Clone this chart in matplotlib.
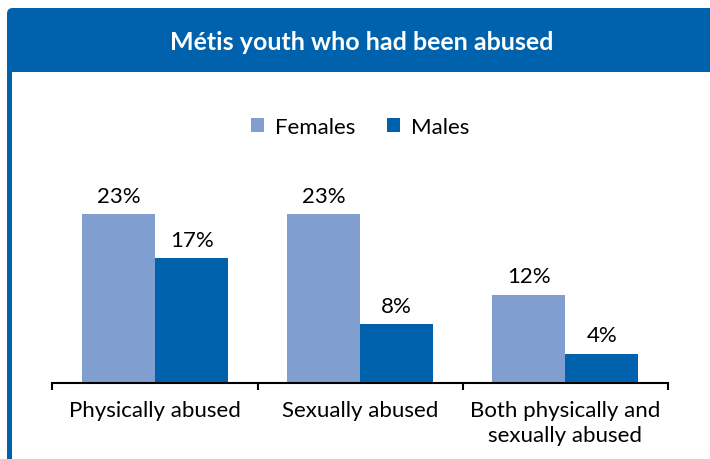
import numpy as np
import matplotlib.pyplot as plt
from matplotlib.patches import FancyBboxPatch, Rectangle

plt.rcParams["font.family"] = ["Lato", "DejaVu Sans"]

# Data
categories = ["Physically abused", "Sexually abused", "Both physically and\nsexually abused"]
females = [23, 23, 12]
males = [17, 8, 4]
series_names = ["Females", "Males"]

blue = "#0062ac"
light = "#809fd0"

W, H = 710, 460
fig = plt.figure(figsize=(W / 100, H / 100), dpi=100)

# frame: left border + header bar with rounded top-left corner
fig.patches.append(Rectangle((7 / W, 0), 5 / W, 1 - 20 / H, transform=fig.transFigure,
                             facecolor=blue, edgecolor="none"))
fig.patches.append(FancyBboxPatch((7 / W, (H - 73) / H), 720 / W, 64 / H,
                                  boxstyle="round,pad=0,rounding_size=0.008",
                                  transform=fig.transFigure, facecolor=blue,
                                  edgecolor="none", mutation_aspect=W / H))
fig.text(362 / W, (H - 43) / H, "Métis youth who had been abused", color="white",
         fontsize=18, fontweight="bold", ha="center", va="center")

ax = fig.add_axes([52.5 / W, 76 / H, 615.5 / W, 284 / H])
x = np.arange(len(categories))
bw = 73 / 205
b1 = ax.bar(x - bw / 2, females, bw, color=light, label=series_names[0])
b2 = ax.bar(x + bw / 2, males, bw, color=blue, label=series_names[1])
for bars in (b1, b2):
    ax.bar_label(bars, labels=[f"{v}%" for v in bars.datavalues], padding=6, fontsize=16)

ax.set_xlim(-0.5, 2.5)
ax.set_ylim(0, 284 / 7.35)
ax.set_yticks([])
for s in ["top", "right", "left"]:
    ax.spines[s].set_visible(False)
ax.spines["bottom"].set_linewidth(1.5)
ax.set_xticks([-0.5, 0.5, 1.5, 2.5])
ax.set_xticklabels([])
ax.tick_params(axis="x", length=5, width=1.5, direction="out")
ax.set_xticks(x, minor=True)
ax.set_xticklabels(categories, minor=True, fontsize=16, linespacing=1.35)
ax.tick_params(axis="x", which="minor", length=0, pad=12)

ax.legend(loc="center", bbox_to_anchor=(0.5, (384 - 128) / 284), ncol=2, frameon=False,
          fontsize=16, handlelength=0.6, handleheight=0.6, handletextpad=0.5,
          columnspacing=1.4)

fig.savefig("out.png", dpi=100)
